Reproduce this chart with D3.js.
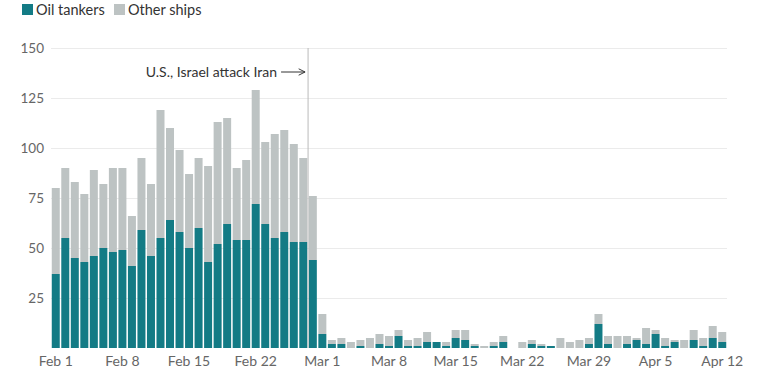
<!DOCTYPE html>
<html>
<head>
<meta charset="utf-8">
<script src="https://cdn.jsdelivr.net/npm/d3@7"></script>
<style>
  body { margin: 0; background: #fff; }
  text { font-family: Lato, "Noto Sans", sans-serif; }
</style>
</head>
<body>
<div id="chart"></div>
<script>
// Daily ship counts, Feb 1 - Apr 12
const days = d3.timeDay.range(new Date(2026, 1, 1), new Date(2026, 3, 13));

const oilTankers = [
  37, 55, 45, 43, 46, 50, 48, 49, 41, 59, 46, 55, 64, 58,
  50, 60, 43, 52, 62, 54, 54, 72, 62, 55, 58, 53, 53, 44,
  7, 2, 2, 0, 1, 0, 2, 1, 6, 1, 1, 3, 3, 1, 5, 4, 1, 0, 1, 3, 0, 0, 2, 1, 1, 0, 0, 0, 2, 12, 2,
  0, 2, 4, 2, 7, 1, 3, 0, 4, 1, 5, 3
];
const allShips = [
  80, 90, 83, 77, 89, 82, 90, 90, 66, 95, 82, 119, 110, 99,
  87, 95, 91, 113, 115, 90, 94, 129, 103, 107, 109, 102, 95, 76,
  17, 4, 5, 3, 4, 5, 7, 6, 9, 4, 5, 8, 3, 3, 9, 9, 2, 1, 3, 6, 0, 3, 4, 2, 1, 5, 3, 4, 5, 17, 6,
  6, 6, 5, 10, 9, 5, 4, 4, 9, 5, 11, 8
];
const yTicks = [25, 50, 75, 100, 125, 150];
const xTickLabels = ["Feb 1", "Feb 8", "Feb 15", "Feb 22", "Mar 1", "Mar 8", "Mar 15", "Mar 22", "Mar 29", "Apr 5", "Apr 12"];

const fmt = d3.timeFormat("%b %-d");
const data = days.map((d, i) => ({ day: fmt(d), oil: oilTankers[i], other: allShips[i] - oilTankers[i] }));

const width = 762, height = 377;
const margin = { top: 48, right: 35, bottom: 29, left: 51 };

const teal = "#137b85";
const grey = "#bdc3c3";

const svg = d3.select("#chart").append("svg")
  .attr("width", width)
  .attr("height", height);

const x = d3.scaleBand()
  .domain(data.map(d => d.day))
  .range([margin.left, width - margin.right])
  .paddingInner(0.16)
  .paddingOuter(0.08);

const y = d3.scaleLinear()
  .domain([0, 150])
  .range([height - margin.bottom, margin.top]);

// gridlines + y labels
const yAxis = svg.append("g")
  .attr("transform", `translate(${margin.left},0)`)
  .call(d3.axisLeft(y).tickValues(yTicks).tickSize(-(width - margin.left - margin.right)).tickPadding(7));
yAxis.select(".domain").remove();
yAxis.selectAll(".tick line").attr("stroke", "#ebebeb");
yAxis.selectAll(".tick text")
  .attr("fill", "#666")
  .style("font-size", "13.5px");

// stacked bars
const stack = d3.stack().keys(["oil", "other"])(data);
const colors = { oil: teal, other: grey };

svg.append("g")
  .selectAll("g")
  .data(stack)
  .join("g")
  .attr("fill", s => colors[s.key])
  .selectAll("rect")
  .data(s => s)
  .join("rect")
  .attr("x", d => x(d.data.day))
  .attr("y", d => y(d[1]))
  .attr("width", x.bandwidth())
  .attr("height", d => y(d[0]) - y(d[1]));

// x axis labels
const xAxis = svg.append("g")
  .attr("transform", `translate(0,${height - margin.bottom})`)
  .call(d3.axisBottom(x).tickValues(xTickLabels).tickSize(0).tickPadding(8));
xAxis.select(".domain").remove();
xAxis.selectAll(".tick text")
  .attr("fill", "#666")
  .style("font-size", "14px");

// attack marker
const attackX = x("Feb 28") - x.step() * x.paddingInner() / 2;
svg.append("line")
  .attr("x1", attackX).attr("x2", attackX)
  .attr("y1", y(150)).attr("y2", y(0))
  .attr("stroke", "#bbb")
  .attr("stroke-width", 1);

svg.append("defs").append("marker")
  .attr("id", "arrow")
  .attr("viewBox", "0 0 10 10")
  .attr("refX", 9).attr("refY", 5)
  .attr("markerWidth", 8).attr("markerHeight", 8)
  .attr("orient", "auto")
  .append("path")
  .attr("d", "M1,1 L9,5 L1,9")
  .attr("fill", "none")
  .attr("stroke", "#333")
  .attr("stroke-width", 1.2);

svg.append("line")
  .attr("x1", attackX - 27).attr("x2", attackX - 3)
  .attr("y1", 72).attr("y2", 72)
  .attr("stroke", "#333")
  .attr("stroke-width", 1)
  .attr("marker-end", "url(#arrow)");

svg.append("text")
  .attr("x", attackX - 31)
  .attr("y", 77)
  .attr("text-anchor", "end")
  .attr("fill", "#333")
  .style("font-size", "14px")
  .text("U.S., Israel attack Iran");

// legend
const legend = svg.append("g");
const items = [{ label: "Oil tankers", color: teal, x: 22 }, { label: "Other ships", color: grey, x: 114 }];
items.forEach(it => {
  legend.append("rect")
    .attr("x", it.x).attr("y", 4)
    .attr("width", 11).attr("height", 11)
    .attr("fill", it.color);
  legend.append("text")
    .attr("x", it.x + 14).attr("y", 15)
    .attr("fill", "#333")
    .style("font-size", "14.5px")
    .text(it.label);
});
</script>
</body>
</html>
